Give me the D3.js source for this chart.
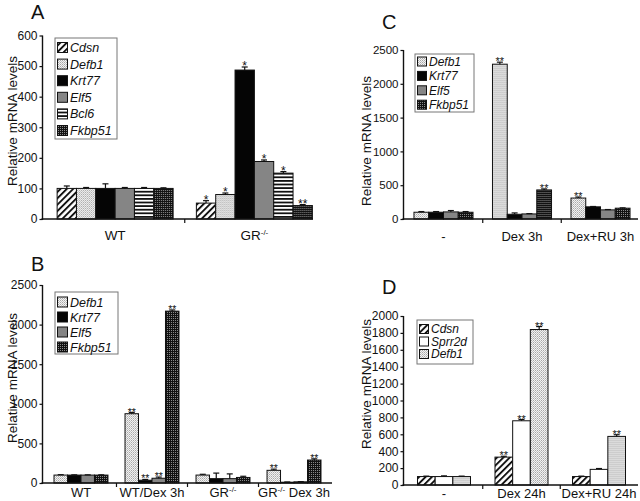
<!DOCTYPE html>
<html><head><meta charset="utf-8">
<script src="https://cdn.jsdelivr.net/npm/d3@7"></script>
<style>body{margin:0;background:#fff}svg{display:block}text{font-family:"Liberation Sans",Arial,sans-serif;fill:#111}</style>
</head><body>
<svg id="c" width="640" height="501"></svg>
<script>
// ---------- data ----------
const groupsA = ["WT", "GR-/-"];
const seriesA = ["Cdsn", "Defb1", "Krt77", "Elf5", "Bcl6", "Fkbp51"];
const valuesA = [[100, 100, 100, 100, 100, 100], [52, 80, 487, 188, 150, 44]];
const errorsA = [[8, 3, 15, 3, 3, 2], [8, 5, 10, 5, 5, 3]];
const starsA = [["", "", "", "", "", ""], ["*", "*", "*", "*", "*", "**"]];
const ticksA = [0, 100, 200, 300, 400, 500, 600];

const groupsB = ["WT", "WT/Dex 3h", "GR-/-", "GR-/- Dex 3h"];
const seriesB = ["Defb1", "Krt77", "Elf5", "Fkbp51"];
const valuesB = [[100, 100, 100, 100], [875, 35, 60, 2170], [100, 55, 55, 70], [160, 10, 15, 290]];
const errorsB = [[5, 3, 3, 3], [15, 10, 15, 15], [10, 70, 60, 15], [15, 3, 3, 15]];
const starsB = [["", "", "", ""], ["**", "**", "**", "**"], ["", "", "", ""], ["**", "", "", "**"]];
const ticksB = [0, 500, 1000, 1500, 2000, 2500];

const groupsC = ["-", "Dex 3h", "Dex+RU 3h"];
const seriesC = ["Defb1", "Krt77", "Elf5", "Fkbp51"];
const valuesC = [[100, 100, 105, 100], [2290, 70, 75, 430], [310, 180, 135, 160]];
const errorsC = [[10, 10, 20, 10], [30, 20, 5, 15], [15, 5, 5, 5]];
const starsC = [["", "", "", ""], ["**", "", "", "**"], ["**", "", "", ""]];
const ticksC = [0, 500, 1000, 1500, 2000, 2500];

const groupsD = ["-", "Dex 24h", "Dex+RU 24h"];
const seriesD = ["Cdsn", "Sprr2d", "Defb1"];
const valuesD = [[100, 100, 100], [330, 760, 1840], [100, 185, 575]];
const errorsD = [[5, 8, 5], [10, 15, 35], [5, 10, 20]];
const starsD = [["", "", ""], ["**", "**", "**"], ["", "", "**"]];
const ticksD = [0, 200, 400, 600, 800, 1000, 1200, 1400, 1600, 1800, 2000];

// ---------- styles ----------
const svg = d3.select("#c");
const defs = svg.append("defs");
// diagonal hatch
const ph = defs.append("pattern").attr("id", "hatch").attr("width", 4.5).attr("height", 4.5)
  .attr("patternUnits", "userSpaceOnUse").attr("patternTransform", "rotate(45)");
ph.append("rect").attr("width", 4.5).attr("height", 4.5).attr("fill", "#fff");
ph.append("rect").attr("width", 1.9).attr("height", 4.5).attr("fill", "#111");
// light stipple
const pd = defs.append("pattern").attr("id", "dots").attr("width", 2).attr("height", 2).attr("patternUnits", "userSpaceOnUse");
pd.append("rect").attr("width", 2).attr("height", 2).attr("fill", "#f2f2f2");
pd.append("rect").attr("width", 1).attr("height", 1).attr("fill", "#a8a8a8");
pd.append("rect").attr("x", 1).attr("y", 1).attr("width", 1).attr("height", 1).attr("fill", "#c4c4c4");
// dark checker
const pk = defs.append("pattern").attr("id", "dark").attr("width", 2).attr("height", 2).attr("patternUnits", "userSpaceOnUse");
pk.append("rect").attr("width", 2).attr("height", 2).attr("fill", "#111");
pk.append("rect").attr("width", 1).attr("height", 1).attr("fill", "#8a8a8a");
// horizontal stripes
const ps = defs.append("pattern").attr("id", "hstripe").attr("width", 4).attr("height", 3.6).attr("patternUnits", "userSpaceOnUse");
ps.append("rect").attr("width", 4).attr("height", 3.6).attr("fill", "#fff");
ps.append("rect").attr("width", 4).attr("height", 1.8).attr("fill", "#111");

const fills = {
  Cdsn: "url(#hatch)", Defb1: "url(#dots)", Krt77: "#050505", Elf5: "#858585",
  Bcl6: "url(#hstripe)", Fkbp51: "url(#dark)", Sprr2d: "#fff"
};

function addLabel(sel, label) {
  // renders "-/-" after GR as superscript
  if (label.startsWith("GR-/-")) {
    sel.append("tspan").text("GR");
    sel.append("tspan").text("-/-").attr("font-size", "8px").attr("dy", -5);
    const rest = label.slice(5);
    if (rest) sel.append("tspan").text(rest).attr("dy", 5);
  } else sel.text(label);
}

function panel(o) {
  const g = svg.append("g");
  const y = d3.scaleLinear().domain([0, o.ymax]).range([o.y0, o.y1]);
  const x0 = d3.scaleBand().domain(o.groups).range(o.xr).paddingInner(o.pi).paddingOuter(o.po);
  const x1 = d3.scaleBand().domain(o.series).range([0, x0.bandwidth()]);

  // panel letter
  g.append("text").attr("x", o.letterX).attr("y", o.letterY).attr("font-size", "20px").text(o.letter);
  // y axis
  const ya = g.append("g").attr("transform", `translate(${o.ax},0)`)
    .call(d3.axisLeft(y).tickValues(o.ticks).tickFormat(d3.format("d")).tickSize(3).tickSizeOuter(0).tickPadding(2));
  ya.select(".domain").remove();
  ya.selectAll("line").attr("stroke", "#111").attr("stroke-width", 1.2);
  ya.selectAll("text").attr("font-size", o.tickFont + "px").attr("font-family", '"Liberation Sans",Arial,sans-serif').attr("fill", "#111");
  g.append("line").attr("x1", o.ax).attr("x2", o.ax).attr("y1", y(o.ymax)).attr("y2", o.y0 + 1)
    .attr("stroke", "#111").attr("stroke-width", 1.4);
  // y title
  g.append("text").attr("transform", `translate(${o.titleX},${o.titleY}) rotate(-90)`)
    .attr("text-anchor", "middle").attr("font-size", "13.5px").text("Relative mRNA levels");

  // bars
  o.groups.forEach((grp, gi) => {
    const gg = g.append("g").attr("transform", `translate(${x0(grp)},0)`);
    o.series.forEach((s, si) => {
      const v = o.values[gi][si], e = o.errors[gi][si];
      const bx = x1(s), bw = x1.bandwidth();
      const cx = bx + bw / 2;
      gg.append("rect").attr("x", bx).attr("y", y(v)).attr("width", bw).attr("height", y(0) - y(v))
        .attr("fill", fills[s]).attr("stroke", "#111").attr("stroke-width", 1);
      if (e > 0) {
        gg.append("line").attr("x1", cx).attr("x2", cx).attr("y1", y(v)).attr("y2", y(v + e)).attr("stroke", "#111").attr("stroke-width", 1.2);
        gg.append("line").attr("x1", cx - 3).attr("x2", cx + 3).attr("y1", y(v + e)).attr("y2", y(v + e)).attr("stroke", "#111").attr("stroke-width", 1.2);
      }
      const st = o.stars[gi][si];
      if (st) gg.append("text").attr("x", cx).attr("y", y(v + e) + 3).attr("text-anchor", "middle")
        .attr("font-size", o.starFont + "px").text(st);
    });
    // category label
    const t = g.append("text").attr("x", x0(grp) + x0.bandwidth() / 2).attr("y", o.labelY)
      .attr("text-anchor", "middle").attr("font-size", o.catFont + "px");
    addLabel(t, grp);
  });

  // x axis line + separator ticks
  g.append("line").attr("x1", o.ax - 1).attr("x2", o.axEnd).attr("y1", o.y0).attr("y2", o.y0)
    .attr("stroke", "#111").attr("stroke-width", 1.4);
  for (let i = 1; i < o.groups.length; i++) {
    const xa = x0(o.groups[i - 1]) + x0.bandwidth(), xb = x0(o.groups[i]);
    const xm = (xa + xb) / 2;
    g.append("line").attr("x1", xm).attr("x2", xm).attr("y1", o.y0).attr("y2", o.y0 + 4)
      .attr("stroke", "#111").attr("stroke-width", 1.2);
  }

  // legend
  const L = o.legend;
  const lg = g.append("g");
  lg.append("rect").attr("x", L.x).attr("y", L.y).attr("width", L.w).attr("height", L.h)
    .attr("fill", "#fff").attr("stroke", "#777").attr("stroke-width", 1);
  o.series.forEach((s, i) => {
    const cy = L.y + L.first + i * L.step;
    lg.append("rect").attr("x", L.x + 2.5).attr("y", cy - L.box / 2).attr("width", L.box).attr("height", L.box)
      .attr("fill", fills[s]).attr("stroke", "#111").attr("stroke-width", 1);
    lg.append("text").attr("x", L.x + L.box + 5).attr("y", cy + L.font * 0.36)
      .attr("font-size", L.font + "px").attr("font-style", "italic").text(s);
  });
}

panel({
  letter: "A", letterX: 31, letterY: 19,
  groups: groupsA, series: seriesA, values: valuesA, errors: errorsA, stars: starsA, ticks: ticksA,
  ymax: 600, y0: 219, y1: 35.5, xr: [45.5, 324], pi: 0.167, po: 0.0835, ax: 42.5, axEnd: 313,
  titleX: 17, titleY: 121, labelY: 240, catFont: 13.5, tickFont: 12, starFont: 12,
  legend: { x: 55, y: 38, w: 62, h: 101, first: 9.5, step: 16.6, box: 10, font: 12.5 }
});
panel({
  letter: "B", letterX: 31, letterY: 271,
  groups: groupsB, series: seriesB, values: valuesB, errors: errorsB, stars: starsB, ticks: ticksB,
  ymax: 2500, y0: 483, y1: 285, xr: [43, 332], pi: 0.24, po: 0.155, ax: 42.5, axEnd: 332,
  titleX: 17, titleY: 378, labelY: 497, catFont: 13, tickFont: 12, starFont: 10.5,
  legend: { x: 55, y: 292, w: 63, h: 62, first: 10, step: 15, box: 10, font: 12.5 }
});
panel({
  letter: "C", letterX: 382, letterY: 29,
  groups: groupsC, series: seriesC, values: valuesC, errors: errorsC, stars: starsC, ticks: ticksC,
  ymax: 2500, y0: 219, y1: 50, xr: [404, 640], pi: 0.248, po: 0.127, ax: 403.5, axEnd: 638,
  titleX: 371, titleY: 141, labelY: 241, catFont: 13, tickFont: 11.5, starFont: 11,
  legend: { x: 415, y: 54, w: 59, h: 58, first: 7.5, step: 14.4, box: 9, font: 12 }
});
panel({
  letter: "D", letterX: 382, letterY: 294,
  groups: groupsD, series: seriesD, values: valuesD, errors: errorsD, stars: starsD, ticks: ticksD,
  ymax: 2000, y0: 485, y1: 316, xr: [403, 640], pi: 0.316, po: 0.187, ax: 403.5, axEnd: 638,
  titleX: 371, titleY: 384, labelY: 498, catFont: 13, tickFont: 12, starFont: 11,
  legend: { x: 417, y: 320, w: 56, h: 44, first: 9, step: 12.5, box: 9, font: 12 }
});
</script>
</body></html>
